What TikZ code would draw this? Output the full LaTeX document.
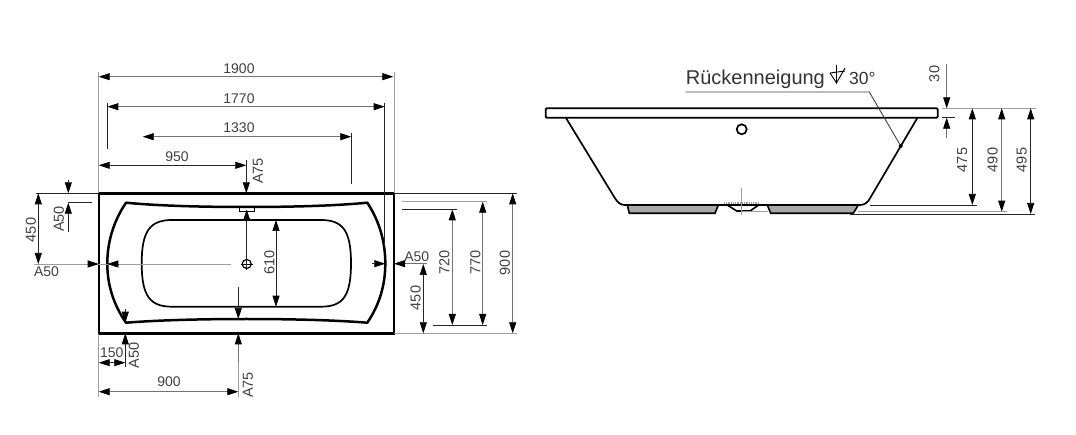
\documentclass[tikz,border=0pt]{standalone}
\usepackage{fontspec}
\setmainfont{Liberation Sans}
\usetikzlibrary{arrows.meta}
\definecolor{mygray}{rgb}{0.62, 0.62, 0.62}
\definecolor{myfoot}{rgb}{0.66, 0.66, 0.66}
\tikzset{
  >={Triangle[length=11pt,width=7pt,color=black]},
  dimdark/.style={draw=black!85, line width=0.7pt},
  dimgray/.style={draw=black!55, line width=0.8pt},
  extline/.style={draw=mygray, line width=0.8pt},
  outline/.style={draw=black, line width=2.5pt, line join=round},
  thinline/.style={draw=black, line width=1.7pt},
  dimtext/.style={font=\fontsize{14}{14}\selectfont, text=black!75, inner sep=0pt},
  vertext/.style={font=\fontsize{14.5}{14.5}\selectfont, text=black!75, inner sep=0pt, rotate=90}
}
\begin{document}
\begin{tikzpicture}[x=1pt,y=-1pt]
  \useasboundingbox (0,0) rectangle (1076,435);

  % top view
  \node[draw=black, line width=2.6pt, minimum width=295pt, minimum height=140pt, inner sep=0pt] (tub) at (246.3,263.3) {};
  \draw[outline] (126,202.7) .. controls (160,206) and (205,207) .. (246.5,207)
    .. controls (288,207) and (333,206) .. (367.3,202.7)
    .. controls (380,222) and (385.3,243) .. (385.3,263.5)
    .. controls (385.3,284) and (380,304) .. (367.3,322.7)
    .. controls (333,320) and (288,319) .. (246.5,319)
    .. controls (205,319) and (160,320) .. (126,322.7)
    .. controls (113,304) and (107.3,284) .. (107.3,263.5)
    .. controls (107.3,243) and (113,222) .. (126,202.7) -- cycle;
  \draw[thinline] (172,220) -- (321,220) .. controls (343,220) and (351,231) .. (351,263.3)
    .. controls (351,296) and (343,306.7) .. (321,306.7) -- (172,306.7)
    .. controls (150,306.7) and (141.7,296) .. (141.7,263.3)
    .. controls (141.7,231) and (150,220) .. (172,220) -- cycle;
  \node[circle, draw=black, line width=1.2pt, minimum size=9pt, inner sep=0pt] (drain) at (246.7,264) {};
  \node[draw=black, line width=1pt, minimum width=15pt, minimum height=4pt, inner sep=0pt] (valve) at (246.5,209.5) {};
  \draw[line width=0.7pt] (240.5,264) -- (252.9,264);
  \draw[dimdark] (246.7,258) -- (246.7,270);

  % extension lines top view
  \draw[extline] (98.7,72) -- (98.7,193);
  \draw[extline] (394,72) -- (394,193);
  \draw[extline] (98.7,334) -- (98.7,397);
  \draw[extline] (238.3,334) -- (238.3,397);
  \draw[dimdark] (107.3,102.7) -- (107.3,149.3);
  \draw[dimdark] (384.7,102.7) -- (384.7,246);
  \draw[dimdark] (351.3,132.7) -- (351.3,184);
  \draw[dimdark] (36,193.3) -- (98,193.3);
  \draw[dimdark] (68.3,202.7) -- (91.7,202.7);
  \draw[dimdark] (394,193.3) -- (516.7,193.3);
  \draw[extline] (394,333.3) -- (516.7,333.3);
  \draw[extline] (402,201.7) -- (486.7,201.7);
  \draw[dimdark] (402.3,209.3) -- (456.7,209.3);
  \draw[dimdark] (432.7,325) -- (486.7,325);

  % dimensions top
  \draw[dimgray,<->] (98.7,76.7) -- (393.3,76.7);
  \node[dimtext] (l1900) at (239,69) {1900};
  \draw[dimgray,<->] (107.3,106.7) -- (384.7,106.7);
  \node[dimtext] (l1770) at (239,98.5) {1770};
  \draw[dimgray,<->] (142.7,136.7) -- (351.3,136.7);
  \node[dimtext] (l1330) at (239,127.5) {1330};
  \draw[dimdark,<->] (98.7,165.3) -- (246.3,165.3);
  \node[dimtext] (l950) at (177,156.5) {950};
  \draw[dimdark,->] (246.3,160) -- (246.3,193.3);
  \node[vertext] (a75top) at (258,171) {A75};

  % dimensions left
  \draw[dimdark,<->] (38.3,193.3) -- (38.3,264);
  \node[vertext] (l450a) at (31,230) {450};
  \draw[extline] (34,264) -- (230.7,264);
  \node[dimtext] (a50left) at (46.5,271.5) {A50};
  \draw[dimdark,->] (88,264) -- (98.7,264);
  \draw[dimdark,->] (118,264) -- (107.3,264);
  \draw[dimdark,->] (68.3,180) -- (68.3,193.3);
  \draw[dimdark,->] (68.3,232) -- (68.3,202.7);
  \node[vertext] (a50top) at (59,219) {A50};

  % dimensions bottom
  \draw[dimdark,->] (125.3,309.3) -- (125.3,322.7);
  \draw[dimdark,->] (125.3,366.7) -- (125.3,333.3);
  \node[vertext] (a50bot) at (134,355.5) {A50};
  \draw[dimdark,<->] (98.7,362.7) -- (125.3,362.7);
  \node[dimtext] (l150) at (111.7,353) {150};
  \draw[dimgray,<->] (98.7,391.7) -- (238.3,391.7);
  \node[dimtext] (l900b) at (169,382) {900};
  \draw[dimgray,->] (238.3,362) -- (238.3,333.3);
  \node[vertext] (a75bot) at (248,385) {A75};
  \draw[dimdark,->] (238.3,287.3) -- (238.3,319);

  % dimensions inside
  \draw[dimdark,->] (246.7,258) -- (246.7,209.5);
  \draw[dimdark,<->] (276,220) -- (276,306.7);
  \node[vertext] (l610) at (269.5,262.7) {610};

  % dimensions right
  \draw[dimdark,->] (371.7,263.7) -- (385.3,263.7);
  \draw[dimgray,->] (427,263.7) -- (394,263.7);
  \node[dimtext] (a50right) at (416.7,256.5) {A50};
  \draw[dimdark,<->] (423.3,264) -- (423.3,333.3);
  \node[vertext] (l450b) at (415.7,298) {450};
  \draw[dimgray,<->] (452.3,209.3) -- (452.3,325);
  \node[vertext] (l720) at (444.3,262.7) {720};
  \draw[dimgray,<->] (482.7,201.7) -- (482.7,325);
  \node[vertext] (l770) at (475.3,262.7) {770};
  \draw[dimgray,<->] (512.7,193.3) -- (512.7,333.3);
  \node[vertext] (l900r) at (505,263) {900};

  % side view
  \draw[fill=myfoot, draw=black, line width=1.6pt] (627.3,205) -- (629.3,213.3) -- (715,213.3) -- (718.3,205);
  \draw[fill=myfoot, draw=black, line width=1.6pt] (767.3,205) -- (770.7,213.3) -- (853.3,213.3) -- (858.3,205);
  \draw[draw=black, line width=1.6pt] (728,205.5) -- (736.7,211) -- (750,211) -- (758,205.5);
  \draw[draw=black, line width=1.8pt, rounded corners=1pt] (545.7,108.3) rectangle (937.7,117.7);
  \draw[thinline] (566,118) -- (615,198.3) .. controls (618,203) and (621,205) .. (625,205)
    -- (860,205) .. controls (865,205) and (868,202) .. (870,198.3) -- (917.3,118);
  \node[circle, draw=black, line width=1.7pt, minimum size=10pt, inner sep=0pt] (overflow) at (741.7,129.3) {};
  \draw[extline, densely dotted, line width=1.6pt] (724,203) -- (759,203);
  \draw[extline, line width=0.7pt] (741.3,188.3) -- (741.3,215);
  \draw[extline] (741.3,211.7) -- (768,211.7);

  % slope label
  \node[anchor=base west, font=\fontsize{20}{20}\selectfont, text=black!80, inner sep=0pt] (slope) at (685.7,85) {Rückenneigung};
  \node[anchor=base west, font=\fontsize{17.5}{17.5}\selectfont, text=black!80, inner sep=0pt] (deg) at (849,85) {30°};
  \draw[line width=0.9pt] (830,73) -- (836.5,83) -- (836.5,65);
  \draw[line width=0.9pt] (836.5,83) -- (845,68);
  \draw[line width=0.9pt] (830,73) -- (845,71);
  \node[circle, fill=black, minimum size=4pt, inner sep=0pt] (dot) at (900.7,146) {};
  \draw[line width=0.9pt, draw=black!75] (685.7,92) -- (869.3,92) -- (dot);

  % dimensions side view
  \draw[dimgray,->] (946.7,64) -- (946.7,108.3);
  \node[vertext] (l30) at (934.3,74) {30};
  \draw[dimgray,->] (946.7,138.3) -- (946.7,117.7);
  \draw[extline] (941.7,108.3) -- (1036,108.3);
  \draw[dimdark] (941.7,117.7) -- (955,117.7);
  \draw[dimdark,<->] (972.3,108.3) -- (972.3,205);
  \node[vertext] (l475) at (962.3,160) {475};
  \draw[dimgray,<->] (1001.7,108.3) -- (1001.7,211.7);
  \node[vertext] (l490) at (992.7,160) {490};
  \draw[dimdark,<->] (1030.7,108.3) -- (1030.7,214);
  \node[vertext] (l495) at (1021.7,160) {495};
  \draw[dimdark] (870,205) -- (977.3,205);
  \draw[extline, line width=1.2pt] (858,211.7) -- (1006.7,211.7);
  \draw[dimdark] (850,214) -- (1035,214);
\end{tikzpicture}
\end{document}
